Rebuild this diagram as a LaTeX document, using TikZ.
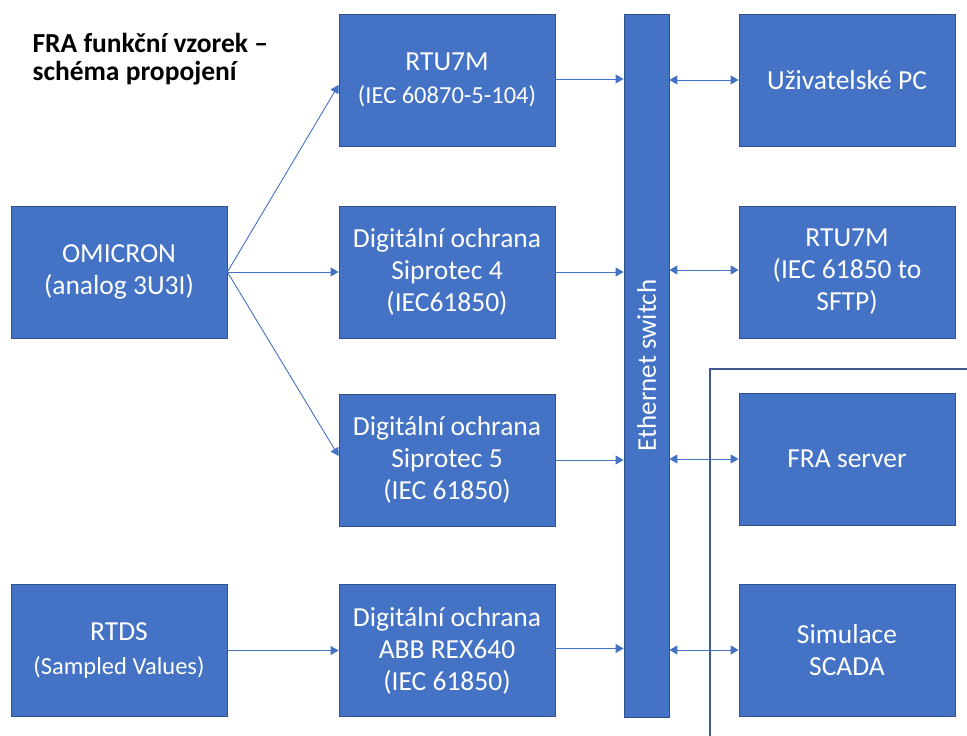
\documentclass[tikz,border=0pt]{standalone}
\usepackage{fontspec}
\setmainfont{Carlito}
\usetikzlibrary{arrows.meta}
\definecolor{boxblue}{HTML}{4472C4}
\definecolor{boxedge}{HTML}{2F528F}
\definecolor{framec}{HTML}{3F5A8F}
\begin{document}
\begin{tikzpicture}[x=1pt,y=-1pt,
  blk/.style={draw=boxedge, line width=0.8pt, fill=boxblue, text=white, align=center,
    minimum width=216pt, minimum height=132pt, inner sep=0pt,
    font=\fontsize{27.5}{32}\selectfont},
  conn/.style={draw=boxblue, line width=0.9pt, -{Triangle[length=8pt,width=9pt]}},
  bi/.style={draw=boxblue, line width=0.9pt, {Triangle[length=8pt,width=9pt]}-{Triangle[length=8pt,width=9pt]}}]
\useasboundingbox (0,0) rectangle (967,736);

\node[anchor=west, align=left, font=\fontsize{27.5}{28}\selectfont\bfseries] (title) at (29,59)
  {FRA funkční vzorek –\\schéma propojení};

\node[blk] (omi) at (119,272) {OMICRON\\(analog 3U3I)};
\node[blk] (rtds) at (119,650.5) {RTDS\\[2pt]{\fontsize{24.5}{30}\selectfont(Sampled Values)}};
\node[blk] (rtu) at (447,80) {RTU7M\\[1pt]{\fontsize{24.5}{30}\selectfont(IEC 60870-5-104)}};
\node[blk] (s4) at (447,272) {Digitální ochrana\\Siprotec 4\\(IEC61850)};
\node[blk] (s5) at (447,460) {Digitální ochrana\\Siprotec 5\\(IEC 61850)};
\node[blk] (abb) at (447,650.5) {Digitální ochrana\\ABB REX640\\(IEC 61850)};
\node[blk, minimum width=45pt, minimum height=703pt] (sw) at (646.5,365.5) {};
\node[rotate=90, text=white, font=\fontsize{27}{30}\selectfont] (swlabel) at (sw.center) {Ethernet switch};
\node[blk] (pc) at (847,80) {Uživatelské PC};
\node[blk] (rtu2) at (847,272) {RTU7M\\(IEC 61850 to\\SFTP)};
\node[blk] (fra) at (847,459) {FRA server};
\node[blk] (scada) at (847,650) {Simulace\\SCADA};

\coordinate (fa) at (710,736);
\coordinate (fb) at (710,369);
\coordinate (fc) at (967,369);
\draw[framec, line width=1.3pt] (fa) -- (fb) -- (fc);

\draw[conn] (omi.east) -- ([yshift=-5pt]rtu.west);
\draw[conn] (omi.east) -- (s4.west);
\draw[conn] (omi.east) -- ([yshift=4pt]s5.west);
\draw[conn] (rtds.east) -- (abb.west);
\draw[conn] ([yshift=1pt]rtu.east) -- ([yshift=1pt]rtu.east -| sw.west);
\draw[conn] (s4.east) -- (s4.east -| sw.west);
\draw[conn] (s5.east) -- (s5.east -| sw.west);
\draw[conn] ([yshift=2pt]abb.east) -- ([yshift=2pt]abb.east -| sw.west);
\draw[bi] (pc.west -| sw.east) -- (pc.west);
\draw[bi] ([yshift=2pt]rtu2.west -| sw.east) -- ([yshift=2pt]rtu2.west);
\draw[bi] (fra.west -| sw.east) -- (fra.west);
\draw[bi] (scada.west -| sw.east) -- (scada.west);
\end{tikzpicture}
\end{document}
